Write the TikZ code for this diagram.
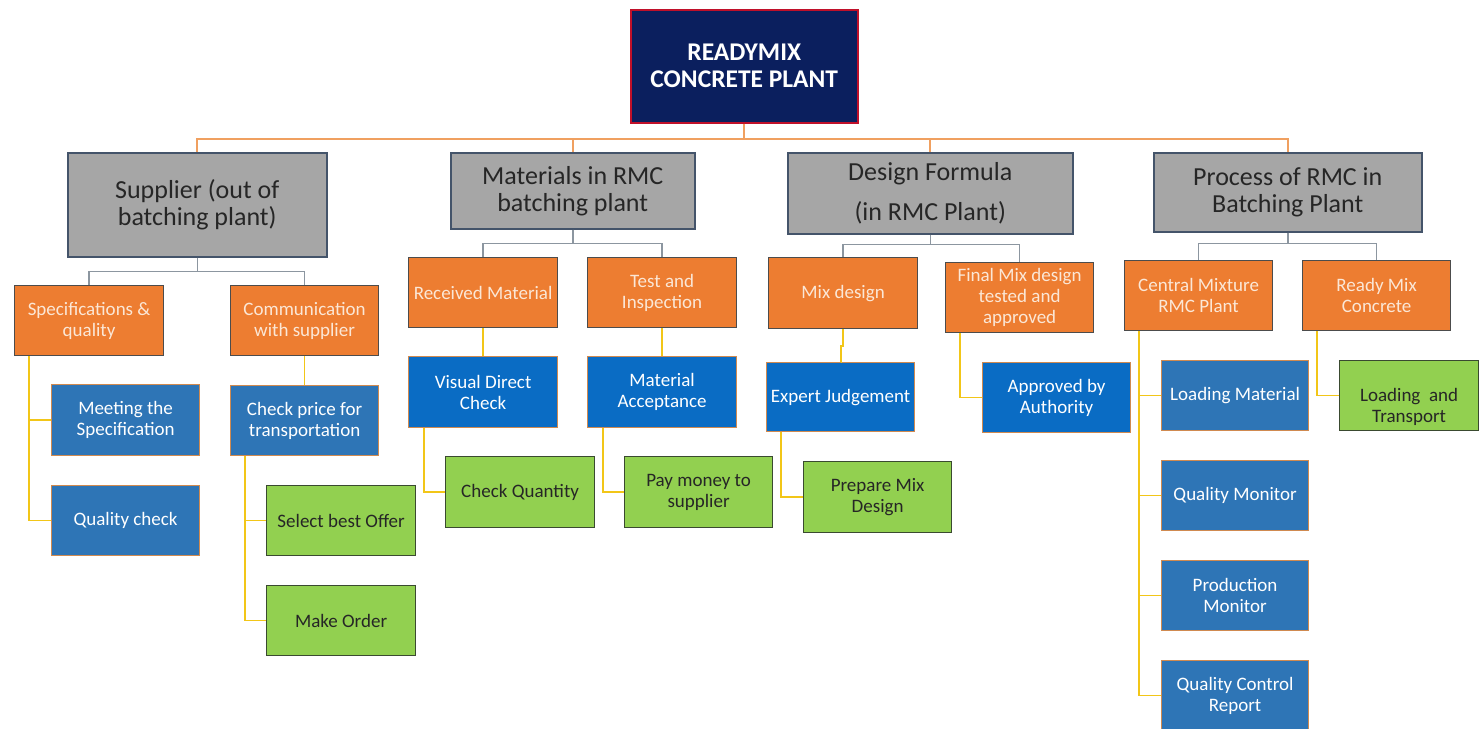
\documentclass[tikz,border=0pt]{standalone}
\usepackage{fontspec}
\setmainfont{Carlito}
\usetikzlibrary{calc}
\definecolor{navy}{HTML}{0B1F5E}
\definecolor{rootred}{HTML}{C0102A}
\definecolor{grayfill}{HTML}{A6A6A6}
\definecolor{grayedge}{HTML}{44546A}
\definecolor{orangefill}{HTML}{ED7D31}
\definecolor{orangetext}{HTML}{FBE7D6}
\definecolor{bluefill}{HTML}{2E75B6}
\definecolor{bluefillb}{HTML}{0A6CC4}
\definecolor{blueedge}{HTML}{D08A50}
\definecolor{greenfill}{HTML}{92D050}
\definecolor{greenedge}{HTML}{3A4A30}
\definecolor{busorange}{HTML}{F0A060}
\definecolor{gline}{HTML}{8C96A0}
\definecolor{yline}{HTML}{F2C618}
\tikzset{
  box/.style={draw, line width=1.2pt, anchor=north west, align=center, inner sep=1pt},
  rootbox/.style={box, fill=navy, draw=rootred, line width=1.5pt, text=white,
    font=\fontsize{25.5}{27}\selectfont\bfseries},
  graybox/.style={box, fill=grayfill, draw=grayedge, line width=1.5pt, text=black!85,
    font=\fontsize{26}{27}\selectfont},
  orangebox/.style={box, fill=orangefill, draw=black!70, text=orangetext,
    font=\fontsize{19}{21}\selectfont},
  bluebox/.style={box, fill=bluefill, draw=blueedge, text=white,
    font=\fontsize{19}{21}\selectfont},
  blueboxb/.style={bluebox, fill=bluefillb},
  greenbox/.style={box, fill=greenfill, draw=greenedge, text=black!85,
    font=\fontsize{19}{21}\selectfont},
  busline/.style={draw=busorange, line width=2pt},
  grayline/.style={draw=gline, line width=1.5pt},
  yelline/.style={draw=yline, line width=1.6pt},
}
\begin{document}
\begin{tikzpicture}[x=1pt,y=-1pt]
\fill[white] (0,0) rectangle (1479,728);
\useasboundingbox (0,0) rectangle (1479,728);
% root
\node[rootbox, minimum width=227pt, minimum height=113pt] (root) at (630,9) {READYMIX\\CONCRETE PLANT};
% gray level
\node[graybox, minimum width=259pt, minimum height=104pt] (g1) at (67,152) {Supplier (out of\\batching plant)};
\node[graybox, minimum width=244pt, minimum height=76pt] (g2) at (450,152) {Materials in RMC\\batching plant};
\node[graybox, minimum width=285pt, minimum height=81pt, font=\fontsize{26}{40}\selectfont] (g3) at (787,152) {Design Formula\\(in RMC Plant)};
\node[graybox, minimum width=268pt, minimum height=79pt] (g4) at (1153,152) {Process of RMC in\\Batching Plant};
% orange level
\node[orangebox, minimum width=149pt, minimum height=70pt] (o1a) at (14,285) {Specifications \&\\quality};
\node[orangebox, minimum width=148pt, minimum height=70pt] (o1b) at (230,285) {Communication\\with supplier};
\node[orangebox, minimum width=149pt, minimum height=70pt] (o2a) at (408,257) {Received Material};
\node[orangebox, minimum width=149pt, minimum height=70pt] (o2b) at (587,257) {Test and\\Inspection};
\node[orangebox, minimum width=149pt, minimum height=71pt] (o3a) at (768,257) {Mix design};
\node[orangebox, minimum width=148pt, minimum height=70pt] (o3b) at (945,262) {Final Mix design\\tested and\\approved};
\node[orangebox, minimum width=148pt, minimum height=70pt] (o4a) at (1124,260) {Central Mixture\\RMC Plant};
\node[orangebox, minimum width=148pt, minimum height=70pt] (o4b) at (1302,260) {Ready Mix\\Concrete};
% blue level
\node[bluebox, minimum width=148pt, minimum height=71pt] (b1a) at (51,384) {Meeting the\\Specification};
\node[bluebox, minimum width=148pt, minimum height=70pt] (b1b) at (51,485) {Quality check};
\node[bluebox, minimum width=148pt, minimum height=70pt] (b1c) at (230,385) {Check price for\\transportation};
\node[blueboxb, minimum width=149pt, minimum height=71pt] (b2a) at (408,356) {Visual Direct\\Check};
\node[blueboxb, minimum width=149pt, minimum height=71pt] (b2b) at (587,356) {Material\\Acceptance};
\node[blueboxb, minimum width=148pt, minimum height=69pt] (b3a) at (766,362) {Expert Judgement};
\node[blueboxb, minimum width=148pt, minimum height=70pt] (b3b) at (982,362) {Approved by\\Authority};
\node[bluebox, minimum width=147pt, minimum height=70pt] (b4a) at (1161,360) {Loading Material};
\node[bluebox, minimum width=147pt, minimum height=70pt] (b4b) at (1161,460) {Quality Monitor};
\node[bluebox, minimum width=147pt, minimum height=70pt] (b4c) at (1161,560) {Production\\Monitor};
\node[bluebox, minimum width=147pt, minimum height=70pt] (b4d) at (1161,660) {Quality Control\\Report};
% green level
\node[greenbox, minimum width=149pt, minimum height=70pt] (gr1a) at (266,485) {Select best Offer};
\node[greenbox, minimum width=149pt, minimum height=70pt] (gr1b) at (266,585) {Make Order};
\node[greenbox, minimum width=149pt, minimum height=71pt] (gr2a) at (445,456) {Check Quantity};
\node[greenbox, minimum width=148pt, minimum height=71pt] (gr2b) at (624,456) {Pay money to\\supplier};
\node[greenbox, minimum width=148pt, minimum height=71pt] (gr3a) at (803,461) {Prepare Mix\\Design};
\node[greenbox, minimum width=139pt, minimum height=70pt] (gr4a) at (1339,360) {\rule{0pt}{36pt}Loading~ and\\Transport};
% orange bus
\coordinate (bus) at ($(root.south)+(0,15)$);
\draw[busline] (root.south) -- (bus);
\draw[busline] (bus) -| (g1.north);
\draw[busline] (bus) -| (g2.north);
\draw[busline] (bus) -| (g3.north);
\draw[busline] (bus) -| (g4.north);
% gray connectors
\draw[grayline] (g1.south) -- ++(0,14) -| (o1a.north);
\draw[grayline] (g1.south) -- ++(0,14) -| (o1b.north);
\draw[grayline] (g2.south) -- ++(0,14) -| (o2a.north);
\draw[grayline] (g2.south) -- ++(0,14) -| (o2b.north);
\draw[grayline] (g3.south) -- ++(0,10) -| (o3a.north);
\draw[grayline] (g3.south) -- ++(0,10) -| (o3b.north);
\draw[grayline] (g4.south) -- ++(0,11) -| (o4a.north);
\draw[grayline] (g4.south) -- ++(0,11) -| (o4b.north);
% yellow connectors
\draw[yelline] ($(o1a.south west)+(15,0)$) |- (b1a.west);
\draw[yelline] ($(o1a.south west)+(15,0)$) |- (b1b.west);
\draw[yelline] (o1b.south) -- (b1c.north);
\draw[yelline] ($(b1c.south west)+(15,0)$) |- (gr1a.west);
\draw[yelline] ($(b1c.south west)+(15,0)$) |- (gr1b.west);
\draw[yelline] (o2a.south) -- (b2a.north);
\draw[yelline] (o2b.south) -- (b2b.north);
\draw[yelline] ($(b2a.south west)+(16,0)$) |- (gr2a.west);
\draw[yelline] ($(b2b.south west)+(16,0)$) |- (gr2b.west);
\draw[yelline] (o3a.south) -- ++(0,17) -- ++(-2,0) |- (b3a.north);
\draw[yelline] ($(o3b.south west)+(15,0)$) |- (b3b.west);
\draw[yelline] ($(b3a.south west)+(15,0)$) |- (gr3a.west);
\draw[yelline] ($(o4a.south west)+(15,0)$) |- (b4a.west);
\draw[yelline] ($(o4a.south west)+(15,0)$) |- (b4b.west);
\draw[yelline] ($(o4a.south west)+(15,0)$) |- (b4c.west);
\draw[yelline] ($(o4a.south west)+(15,0)$) |- (b4d.west);
\draw[yelline] ($(o4b.south west)+(15,0)$) |- (gr4a.west);
\end{tikzpicture}
\end{document}
